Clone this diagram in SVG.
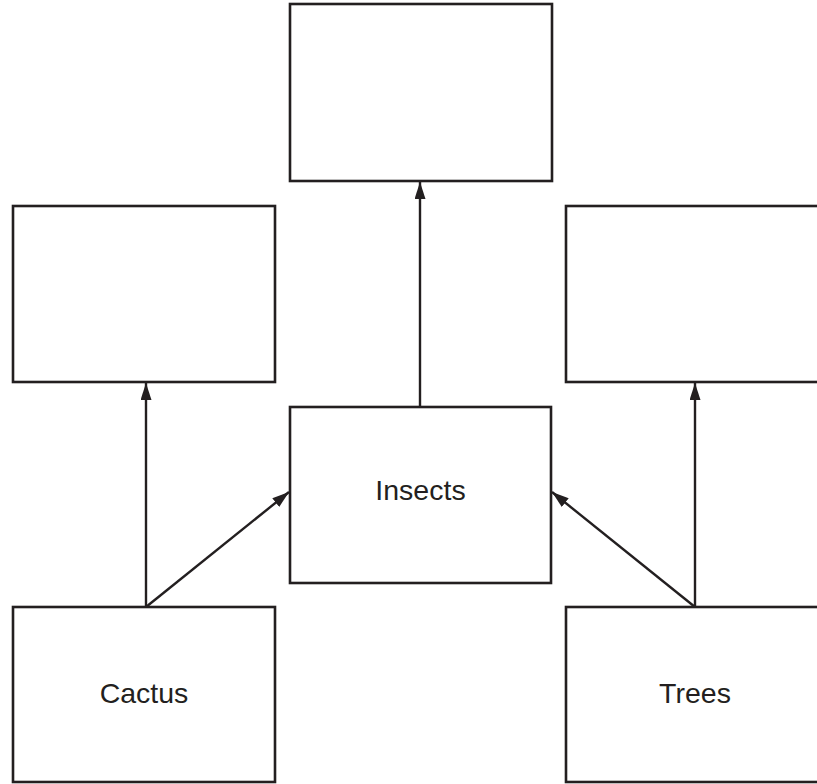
<svg xmlns="http://www.w3.org/2000/svg" width="817" height="784" viewBox="0 0 817 784">
<style>
.box{fill:#fff;stroke:#231f20;stroke-width:2.6}
.lbl{font-family:"Liberation Sans",Arial,sans-serif;font-size:28.5px;fill:#231f20;text-anchor:middle}
.conn{stroke:#231f20;stroke-width:2.4;fill:none;marker-end:url(#ah)}
</style>
<defs>
<marker id="ah" markerUnits="userSpaceOnUse" markerWidth="17" markerHeight="11" viewBox="0 0 17 11" refX="17" refY="5.5" orient="auto">
<path d="M0,0 L17,5.5 L0,11 Z" fill="#231f20"/>
</marker>
</defs>
<rect width="817" height="784" fill="#fff"/>
<g id="top"><rect class="box" x="290" y="4" width="262" height="177"/></g>
<g id="left-mid"><rect class="box" x="13" y="206" width="262" height="176"/></g>
<g id="right-mid"><rect class="box" x="566" y="206" width="262" height="176"/></g>
<g id="insects"><rect class="box" x="290" y="407" width="261" height="176"/><text class="lbl" x="420.5" y="500">Insects</text></g>
<g id="cactus"><rect class="box" x="13" y="607" width="262" height="175"/><text class="lbl" x="144" y="703">Cactus</text></g>
<g id="trees"><rect class="box" x="566" y="607" width="262" height="175"/><text class="lbl" x="695" y="703">Trees</text></g>
<g id="connectors">
<line class="conn" x1="420" y1="407" x2="420" y2="182"/>
<line class="conn" x1="146" y1="607" x2="146" y2="383"/>
<line class="conn" x1="146" y1="607" x2="289" y2="492"/>
<line class="conn" x1="695" y1="607" x2="695" y2="383"/>
<line class="conn" x1="695" y1="607" x2="552" y2="492"/>
</g>
</svg>
